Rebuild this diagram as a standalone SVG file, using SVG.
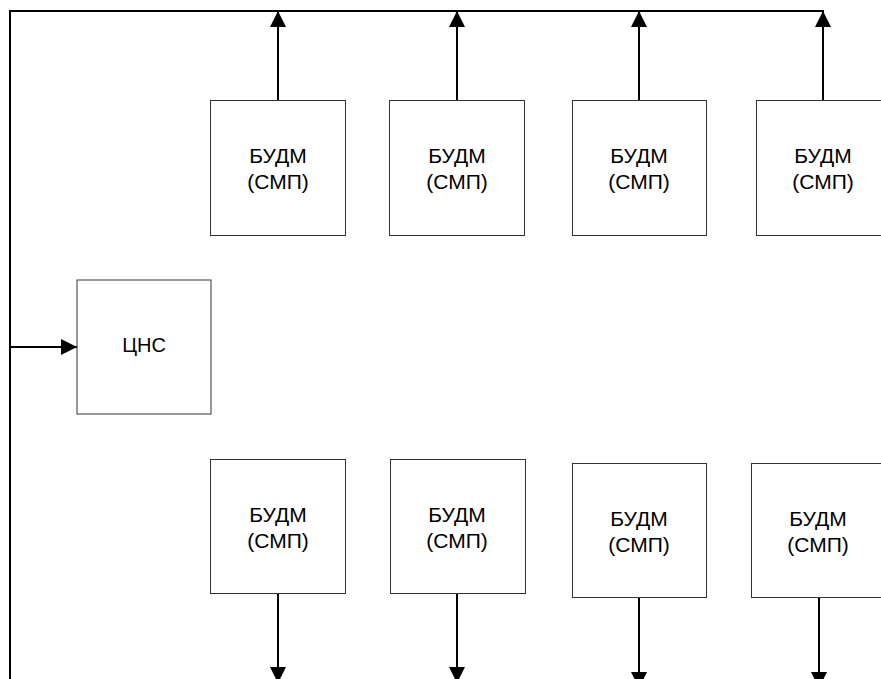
<svg xmlns="http://www.w3.org/2000/svg" width="881" height="679" viewBox="0 0 881 679">
<style>
.box{fill:#fff;stroke:#333;stroke-width:1}
.ln{fill:none;stroke:#000;stroke-width:2}
.t{font-family:"Liberation Sans",Arial,sans-serif;font-size:21px;fill:#000;text-anchor:middle}
.c{font-size:20px}
</style>
<defs>
<marker id="ah" markerUnits="userSpaceOnUse" markerWidth="16" markerHeight="16" refX="16" refY="8" orient="auto" viewBox="0 0 16 16">
<path d="M0,0 L16,8 L0,16 z" fill="#000"/>
</marker>
</defs>
<rect width="881" height="679" fill="#fff"/>
<g id="connectors">
<path class="ln" d="M10,11 H824 M10,10 V679"/>
<path class="ln" d="M10,347 H77" marker-end="url(#ah)"/>
<path class="ln" d="M278,100 V11" marker-end="url(#ah)"/>
<path class="ln" d="M457,100 V11" marker-end="url(#ah)"/>
<path class="ln" d="M639,100 V11" marker-end="url(#ah)"/>
<path class="ln" d="M823,100 V11" marker-end="url(#ah)"/>
<path class="ln" d="M278,593 V683" marker-end="url(#ah)"/>
<path class="ln" d="M457,593 V683" marker-end="url(#ah)"/>
<path class="ln" d="M639,597 V688" marker-end="url(#ah)"/>
<path class="ln" d="M819,597 V688" marker-end="url(#ah)"/>
</g>
<g id="cns"><rect class="box" x="77" y="280" width="134" height="134"/><text class="t c" x="144" y="352">ЦНС</text></g>
<g id="t1"><rect class="box" x="210.5" y="100.5" width="135" height="135"/><text class="t" x="278" y="163">БУДМ</text><text class="t" x="278" y="189">(СМП)</text></g>
<g id="t2"><rect class="box" x="389.5" y="100.5" width="135" height="135"/><text class="t" x="457" y="163">БУДМ</text><text class="t" x="457" y="189">(СМП)</text></g>
<g id="t3"><rect class="box" x="572.5" y="100.5" width="134" height="135"/><text class="t" x="639" y="163">БУДМ</text><text class="t" x="639" y="189">(СМП)</text></g>
<g id="t4"><rect class="box" x="756.5" y="100.5" width="135" height="135"/><text class="t" x="823" y="163">БУДМ</text><text class="t" x="823" y="189">(СМП)</text></g>
<g id="b1"><rect class="box" x="210.5" y="459.5" width="135" height="134"/><text class="t" x="278" y="522">БУДМ</text><text class="t" x="278" y="548">(СМП)</text></g>
<g id="b2"><rect class="box" x="390.5" y="459.5" width="135" height="134"/><text class="t" x="457" y="522">БУДМ</text><text class="t" x="457" y="548">(СМП)</text></g>
<g id="b3"><rect class="box" x="572.5" y="463.5" width="134" height="134"/><text class="t" x="639" y="526">БУДМ</text><text class="t" x="639" y="552">(СМП)</text></g>
<g id="b4"><rect class="box" x="751.5" y="463.5" width="135" height="134"/><text class="t" x="818" y="526">БУДМ</text><text class="t" x="818" y="552">(СМП)</text></g>
</svg>
